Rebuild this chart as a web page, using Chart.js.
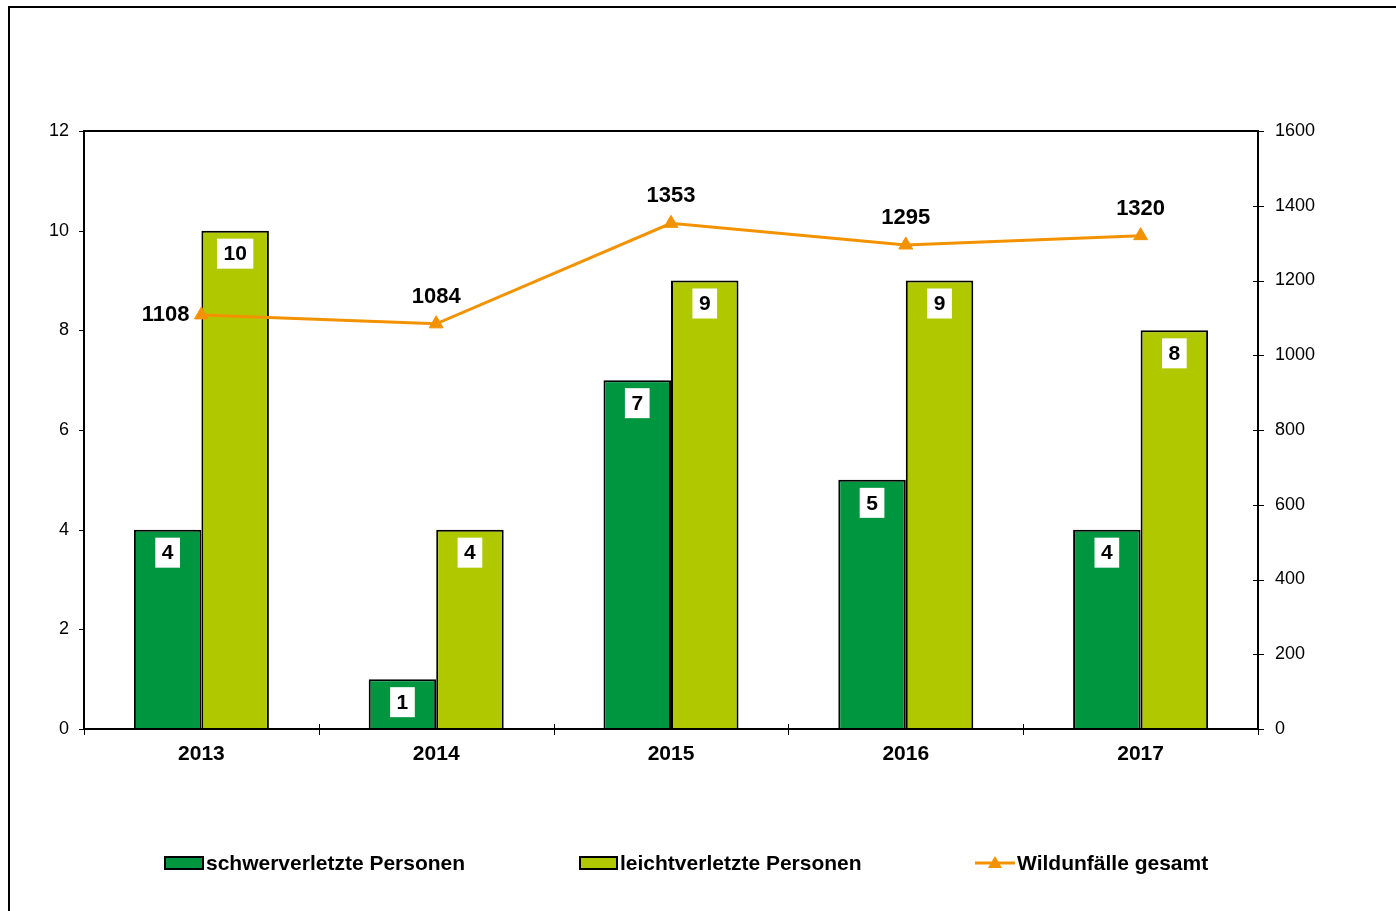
<!DOCTYPE html>
<html>
<head>
<meta charset="utf-8">
<script src="https://cdn.jsdelivr.net/npm/chart.js@4/dist/chart.umd.min.js"></script>
<style>
html,body{margin:0;padding:0;background:#fff;}
#wrap{position:absolute;left:0;top:0;width:1396px;height:911px;}
</style>
</head>
<body>
<div id="wrap"><canvas id="c" width="1396" height="911"></canvas></div>
<script>
const categories = ['2013', '2014', '2015', '2016', '2017'];
const seriousInjured = [4, 1, 7, 5, 4];
const lightInjured = [10, 4, 9, 9, 8];
const wildlifeAccidents = [1108, 1084, 1353, 1295, 1320];
const seriesNames = ['schwerverletzte Personen', 'leichtverletzte Personen', 'Wildunfälle gesamt'];
const leftAxis = { min: 0, max: 12, step: 2 };
const rightAxis = { min: 0, max: 1600, step: 200 };

const FONT = '"Liberation Sans", Arial, Helvetica, sans-serif';
const DARK = '#009640';
const LIGHT = '#B0C800';
const ORANGE = '#F39200';

const decorPlugin = {
  id: 'decor',
  afterDatasetsDraw(chart) {
    const ctx = chart.ctx;
    const a = chart.chartArea;
    const y = chart.scales.y, y1 = chart.scales.y1;
    ctx.save();
    ctx.strokeStyle = '#000';
    ctx.lineWidth = 2;
    ctx.strokeRect(a.left, a.top, a.right - a.left, a.bottom - a.top);
    ctx.lineWidth = 1;
    y.ticks.forEach(t => {
      const py = Math.round(y.getPixelForValue(t.value)) + 0.5;
      ctx.beginPath(); ctx.moveTo(a.left - 5, py); ctx.lineTo(a.left, py); ctx.stroke();
    });
    y1.ticks.forEach(t => {
      const py = Math.round(y1.getPixelForValue(t.value)) + 0.5;
      ctx.beginPath(); ctx.moveTo(a.right - 5, py); ctx.lineTo(a.right + 6, py); ctx.stroke();
    });
    const n = categories.length;
    const cw = (a.right - a.left) / n;
    for (let i = 0; i <= n; i++) {
      const px = Math.round(a.left + i * cw) + 0.5;
      ctx.beginPath(); ctx.moveTo(px, a.bottom - 5); ctx.lineTo(px, a.bottom + 6); ctx.stroke();
    }

    // bar labels
    ctx.font = 'bold 21px ' + FONT;
    ctx.textAlign = 'center';
    ctx.textBaseline = 'middle';
    [0, 1].forEach(di => {
      const meta = chart.getDatasetMeta(di);
      meta.data.forEach((el, i) => {
        const txt = String(chart.data.datasets[di].data[i]);
        const tw = ctx.measureText(txt).width;
        const cx = el.x, cy = el.y + 23;
        const w = tw + 13, h = 30;
        ctx.fillStyle = '#fff';
        ctx.fillRect(cx - w / 2, cy - h / 2, w, h);
        ctx.fillStyle = '#000';
        ctx.fillText(txt, cx, cy + 1);
      });
    });

    // line labels
    ctx.font = 'bold 22px ' + FONT;
    const lm = chart.getDatasetMeta(2);
    lm.data.forEach((el, i) => {
      const txt = String(chart.data.datasets[2].data[i]);
      const tw = ctx.measureText(txt).width;
      let cx, cy;
      if (i === 0) { cx = el.x - 12 - tw / 2; cy = el.y - 1; }
      else { cx = el.x; cy = el.y - 28; }
      ctx.fillStyle = '#fff';
      ctx.fillRect(cx - tw / 2 - 3, cy - 12, tw + 6, 24);
      ctx.fillStyle = '#000';
      ctx.fillText(txt, cx, cy + 1);
    });
    ctx.restore();
  },
  afterDraw(chart) {
    const ctx = chart.ctx;
    ctx.save();
    ctx.strokeStyle = '#000';
    ctx.lineWidth = 2;
    ctx.beginPath();
    ctx.moveTo(9, 920); ctx.lineTo(9, 7); ctx.lineTo(1400, 7);
    ctx.stroke();

    // legend
    const ly = 863;
    ctx.font = 'bold 21px ' + FONT;
    ctx.textAlign = 'left';
    ctx.textBaseline = 'middle';
    ctx.lineWidth = 2;
    ctx.fillStyle = DARK;
    ctx.fillRect(165, ly - 6, 38, 12);
    ctx.strokeRect(165, ly - 6, 38, 12);
    ctx.fillStyle = '#000';
    ctx.fillText(seriesNames[0], 206, ly + 1);

    ctx.fillStyle = LIGHT;
    ctx.fillRect(580, ly - 6, 37, 12);
    ctx.strokeRect(580, ly - 6, 37, 12);
    ctx.fillStyle = '#000';
    ctx.fillText(seriesNames[1], 620, ly + 1);

    ctx.strokeStyle = ORANGE;
    ctx.lineWidth = 3;
    ctx.beginPath(); ctx.moveTo(975, ly); ctx.lineTo(1015, ly); ctx.stroke();
    ctx.fillStyle = ORANGE;
    ctx.beginPath(); ctx.moveTo(995, ly - 7); ctx.lineTo(1002, ly + 5); ctx.lineTo(988, ly + 5); ctx.closePath(); ctx.fill();
    ctx.fillStyle = '#000';
    ctx.fillText(seriesNames[2], 1017, ly + 1);
    ctx.restore();
  }
};

new Chart(document.getElementById('c'), {
  data: {
    labels: categories,
    datasets: [
      { type: 'bar', label: seriesNames[0], data: seriousInjured, yAxisID: 'y', backgroundColor: DARK, borderColor: '#000', borderWidth: 2, order: 1, categoryPercentage: 0.575, barPercentage: 1 },
      { type: 'bar', label: seriesNames[1], data: lightInjured, yAxisID: 'y', backgroundColor: LIGHT, borderColor: '#000', borderWidth: 2, order: 1, categoryPercentage: 0.575, barPercentage: 1 },
      { type: 'line', label: seriesNames[2], data: wildlifeAccidents, yAxisID: 'y1', borderColor: ORANGE, backgroundColor: ORANGE, borderWidth: 3, pointStyle: 'triangle', pointRadius: 8, pointBorderWidth: 1, pointBackgroundColor: ORANGE, pointBorderColor: ORANGE, tension: 0, order: 0 }
    ]
  },
  options: {
    responsive: false,
    animation: false,
    layout: { padding: { top: 131, left: 0, right: 0, bottom: 0 } },
    plugins: { legend: { display: false }, tooltip: { enabled: false } },
    scales: {
      x: {
        type: 'category', offset: true,
        grid: { display: false }, border: { display: false },
        ticks: { color: '#000', font: { family: FONT, size: 21, weight: 'bold' }, padding: 5, maxRotation: 0 },
        afterFit(s) { s.height = 182; }
      },
      y: {
        position: 'left', min: leftAxis.min, max: leftAxis.max,
        grid: { display: false }, border: { display: false },
        ticks: { stepSize: leftAxis.step, color: '#000', font: { family: FONT, size: 18 }, padding: 7, callback: v => String(v) },
        afterFit(s) { s.width = 84; }
      },
      y1: {
        position: 'right', min: rightAxis.min, max: rightAxis.max,
        grid: { display: false }, border: { display: false },
        ticks: { stepSize: rightAxis.step, color: '#000', font: { family: FONT, size: 18 }, padding: 9, callback: v => String(v) },
        afterFit(s) { s.width = 138; }
      }
    }
  },
  plugins: [decorPlugin]
});
</script>
</body>
</html>
